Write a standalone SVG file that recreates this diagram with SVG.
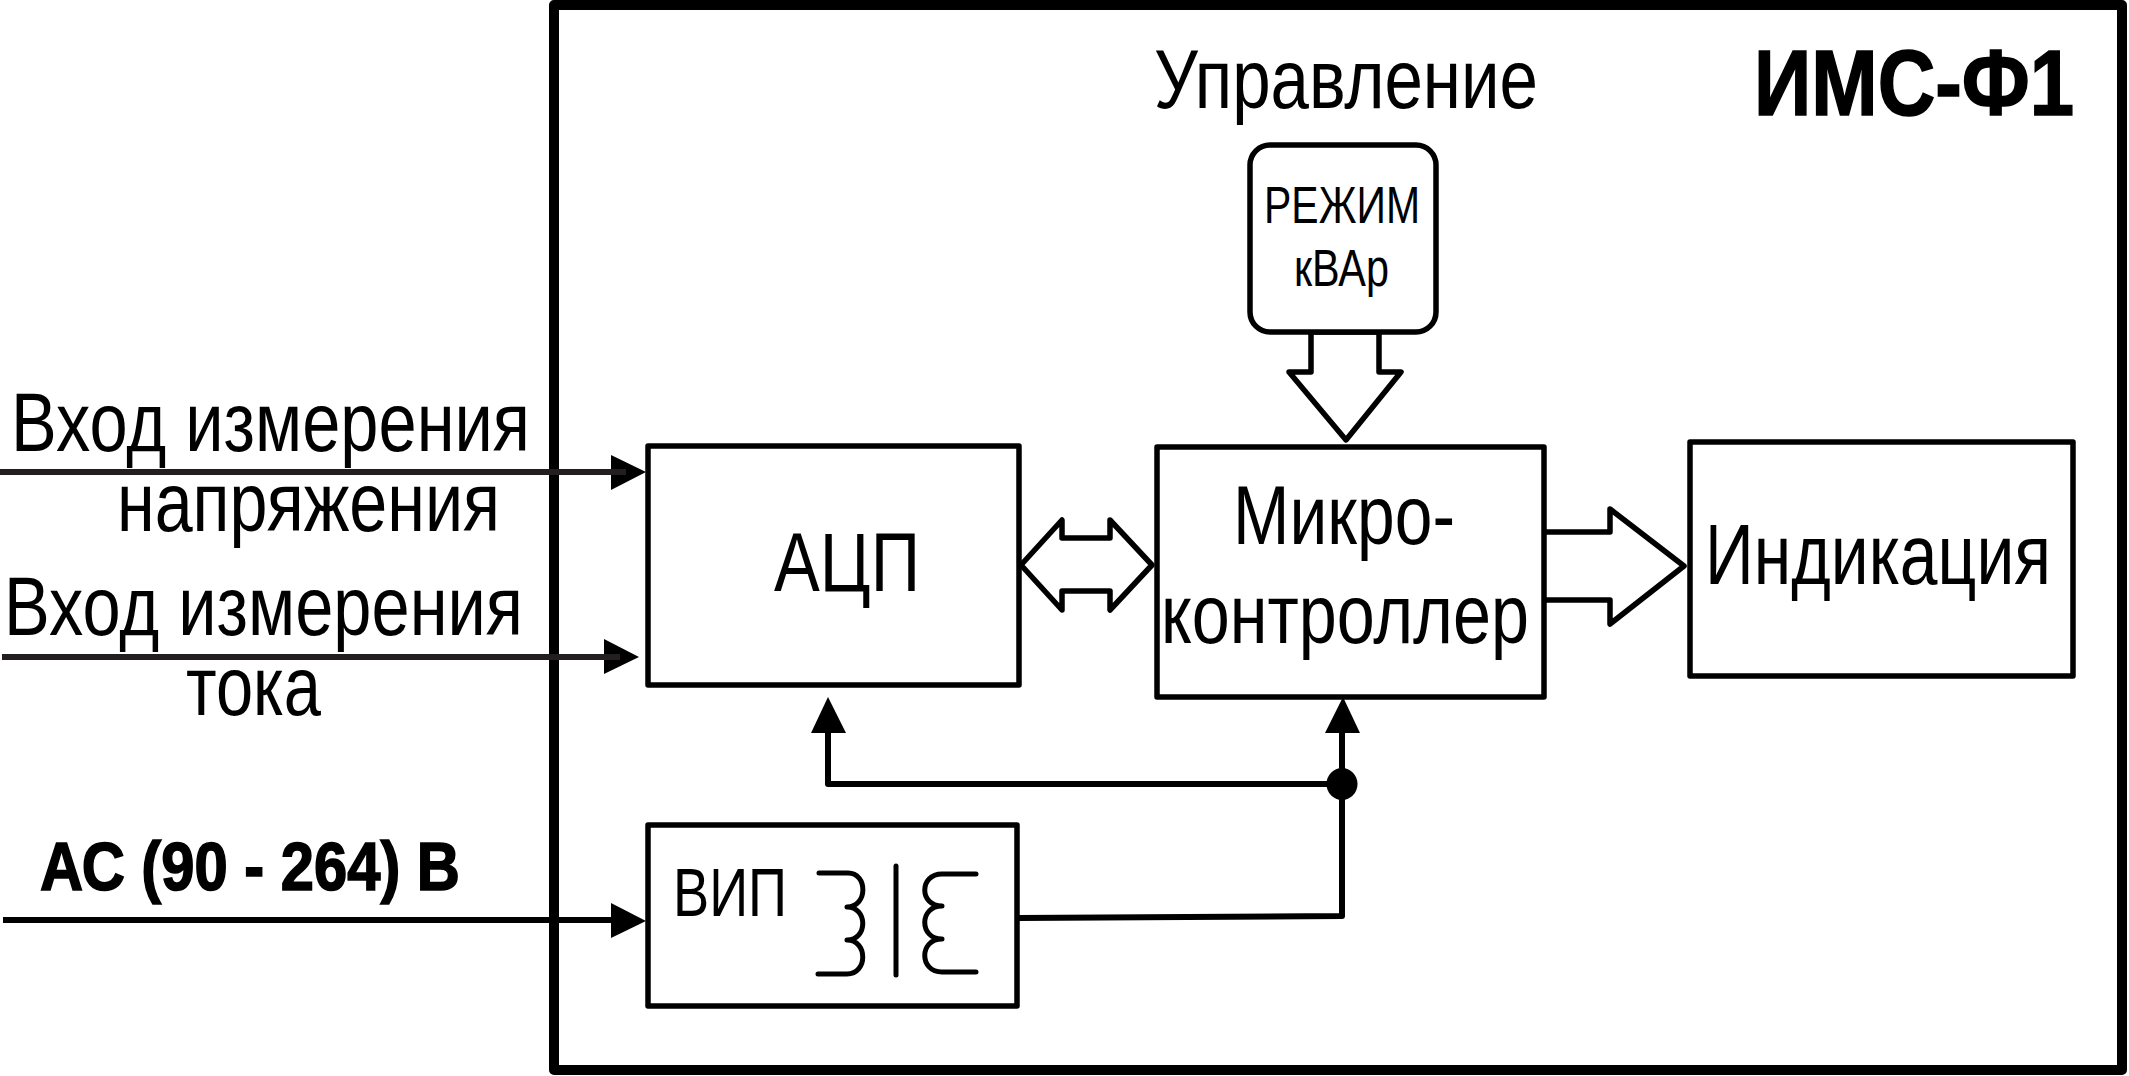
<svg xmlns="http://www.w3.org/2000/svg" width="2129" height="1076" viewBox="0 0 2129 1076">
  <style>
    text { font-family: "Liberation Sans", Arial, sans-serif; fill: #000; }
    .b { font-weight: bold; stroke: #000; stroke-width: 1.6; }
    .box { fill: #fff; stroke: #000; stroke-width: 5.5; stroke-linejoin: round; }
    .wire { fill: none; stroke: #000; stroke-width: 6; stroke-linejoin: round; }
    .input { fill: none; stroke: #231f20; stroke-width: 6; }
    .mains { fill: none; stroke: #000; stroke-width: 6; }
    .head { fill: #000; stroke: none; }
    .bus { fill: #fff; stroke: #000; stroke-width: 5.5; stroke-linejoin: round; }
    .coil { fill: none; stroke: #000; stroke-width: 5; stroke-linecap: round; stroke-linejoin: round; }
  </style>
  <rect width="2129" height="1076" fill="#fff"/>

  <g id="ims-frame">
    <rect x="554" y="5" width="1568" height="1065" fill="none" stroke="#000" stroke-width="10" stroke-linejoin="round"/>
    <text class="b" x="1754" y="115" font-size="92" textLength="320" lengthAdjust="spacingAndGlyphs">ИМС-Ф1</text>
  </g>

  <g id="connectors">
    <polygon class="head" points="611,455 646,472 611,490"/>
    <polygon class="head" points="604,639 639,657 604,674"/>
    <polygon class="head" points="611,903 646,921 611,938"/>
    <path class="input" d="M0 472H626M2 657H620"/>
    <path class="mains" d="M3 920H620"/>
    <path class="wire" d="M1018 918L1342 916V733"/>
    <path class="wire" d="M1343 784H828V733"/>
    <polygon class="head" points="811,733 828,697 846,733"/>
    <polygon class="head" points="1325,733 1343,697 1360,733"/>
    <ellipse class="head" cx="1342" cy="784" rx="15.5" ry="16"/>
    <polygon class="bus" points="1311,332 1311,372 1289,372 1346,440 1401,372 1379,372 1379,332"/>
    <polygon class="bus" points="1021,565 1062,520 1062,538 1110,538 1110,520 1152,565 1110,610 1110,591 1062,591 1062,610"/>
    <polygon class="bus" points="1543,532 1610,532 1610,509 1684,566 1610,624 1610,600 1543,600"/>
  </g>

  <g id="input-labels">
    <text x="11" y="451" font-size="83" textLength="519" lengthAdjust="spacingAndGlyphs">Вход измерения</text>
    <text x="117" y="531" font-size="83" textLength="383" lengthAdjust="spacingAndGlyphs">напряжения</text>
    <text x="4" y="635" font-size="83" textLength="519" lengthAdjust="spacingAndGlyphs">Вход измерения</text>
    <text x="186" y="715" font-size="83" textLength="135" lengthAdjust="spacingAndGlyphs">тока</text>
    <text class="b" x="40" y="890" font-size="68" textLength="420" lengthAdjust="spacingAndGlyphs">АС (90 - 264) В</text>
    <text x="1154" y="108" font-size="84" textLength="384" lengthAdjust="spacingAndGlyphs">Управление</text>
  </g>

  <g id="adc">
    <rect class="box" x="648" y="446" width="371" height="239"/>
    <text x="774" y="591" font-size="84" textLength="146" lengthAdjust="spacingAndGlyphs">АЦП</text>
  </g>

  <g id="mcu">
    <rect class="box" x="1157" y="447" width="387" height="250"/>
    <text x="1233" y="544" font-size="84" textLength="222" lengthAdjust="spacingAndGlyphs">Микро-</text>
    <text x="1161" y="643" font-size="84" textLength="368" lengthAdjust="spacingAndGlyphs">контроллер</text>
  </g>

  <g id="display">
    <rect class="box" x="1690" y="442" width="383" height="234"/>
    <text x="1705" y="584" font-size="85" textLength="346" lengthAdjust="spacingAndGlyphs">Индикация</text>
  </g>

  <g id="mode-button">
    <rect class="box" x="1250" y="145" width="186" height="187" rx="20"/>
    <text x="1264" y="223" font-size="51" textLength="156" lengthAdjust="spacingAndGlyphs">РЕЖИМ</text>
    <text x="1294" y="286" font-size="51" textLength="95" lengthAdjust="spacingAndGlyphs">кВАр</text>
  </g>

  <g id="power-supply">
    <rect class="box" x="648" y="825" width="369" height="181"/>
    <text x="673" y="916" font-size="68" textLength="114" lengthAdjust="spacingAndGlyphs">ВИП</text>
    <path class="coil" d="M819 873H848C868 873 868 907 847 907C868 907 868 940 847 940C868 940 868 974 847 974H818"/>
    <path class="coil" d="M896 866V975"/>
    <path class="coil" d="M976 874H942C919 874 919 906 942 906C919 906 919 939 942 939C919 939 919 972 942 972H976"/>
  </g>
</svg>
